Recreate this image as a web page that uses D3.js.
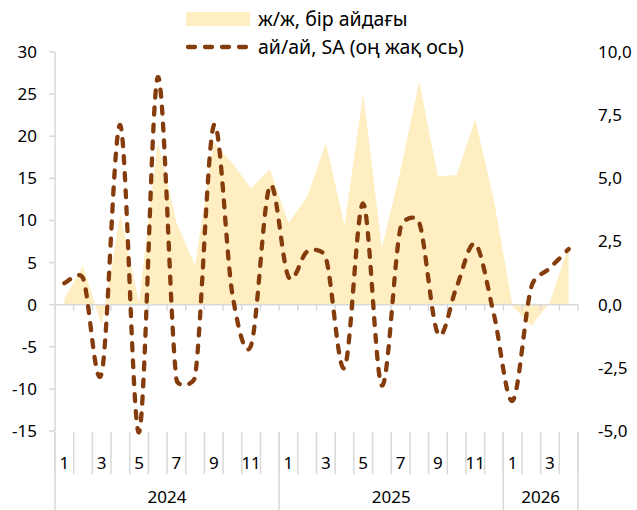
<!DOCTYPE html>
<html><head><meta charset="utf-8">
<script src="https://cdn.jsdelivr.net/npm/d3@7"></script>
<style>
html,body{margin:0;padding:0;background:#fff;}
svg text{font-family:"Noto Sans",sans-serif;fill:#000;}
</style></head>
<body>
<svg id="chart" width="637" height="510"></svg>
<script>
// ---- data ----
const months = [1,2,3,4,5,6,7,8,9,10,11,12, 1,2,3,4,5,6,7,8,9,10,11,12, 1,2,3,4];
const years = ["2024","2025","2026"];
const yearCounts = [12,12,4];
const yoy = [0.7,4.6,-2.5,10.8,0.2,19.3,9.8,4.6,19.3,16.8,13.8,16.1,
             9.7,12.8,19.2,9.4,25.1,6.7,16.0,26.5,15.2,15.4,22.0,12.4,
             -0.2,-2.5,0.3,7.0];
const mom = [0.85,1.05,-2.7,7.1,-5.05,9.0,-2.95,-2.85,7.1,0.4,-1.6,4.7,
             1.1,2.1,1.85,-2.5,4.0,-3.2,3.05,3.25,-1.15,0.7,2.4,-0.4,
             -3.8,0.7,1.45,2.2];
const leftTicks = [-15,-10,-5,0,5,10,15,20,25,30];
const rightTicks = [-5,-2.5,0,2.5,5,7.5,10];
const seriesNames = ["ж/ж, бір айдағы","ай/ай, SA (оң жақ ось)"];

// ---- Excel-like smoothing curve (Catmull-Rom Bezier, tangents clamped to half segment) ----
function ExcelSmooth(context){ this._context = context; }
ExcelSmooth.prototype = {
  areaStart(){}, areaEnd(){},
  lineStart(){ this._pts = []; },
  point(x,y){ this._pts.push([+x,+y]); },
  lineEnd(){
    const p = this._pts, c = this._context, n = p.length;
    if (!n) return;
    c.moveTo(p[0][0], p[0][1]);
    const tan = (a, b, seg) => {
      let tx = (b[0]-a[0])/6, ty = (b[1]-a[1])/6;
      const len = Math.hypot(tx,ty), lim = seg/2;
      if (len > lim && len > 0) { tx *= lim/len; ty *= lim/len; }
      return [tx,ty];
    };
    for (let i = 0; i < n-1; i++) {
      const p0 = p[Math.max(i-1,0)], p1 = p[i], p2 = p[i+1], p3 = p[Math.min(i+2,n-1)];
      const seg = Math.hypot(p2[0]-p1[0], p2[1]-p1[1]);
      const t1 = tan(p0, p2, seg), t2 = tan(p1, p3, seg);
      c.bezierCurveTo(p1[0]+t1[0], p1[1]+t1[1], p2[0]-t2[0], p2[1]-t2[1], p2[0], p2[1]);
    }
  }
};
const excelSmooth = ctx => new ExcelSmooth(ctx);

// ---- layout ----
const svg = d3.select("#chart");
const L = 55, R = 578, T = 52, B = 431;
const idx = d3.range(months.length);
const x = d3.scaleBand().domain(idx).range([L, R]).paddingInner(0).paddingOuter(0);
const cx = i => x(i) + x.bandwidth()/2;
const yL = d3.scaleLinear().domain([-15,30]).range([B, T]);
const yR = d3.scaleLinear().domain([-5,10]).range([B, T]);
const grid = "#d9d9d9";
const loc = d3.formatLocale({decimal:",", thousands:" ", grouping:[3], currency:["",""], minus:"-"});
const fR = loc.format(".1f");

// area
svg.append("path")
  .attr("d", d3.area().x((d,i)=>cx(i)).y0(yL(0)).y1(d=>yL(d))(yoy))
  .attr("fill","#FFEEC2");

// left axis line + ticks
svg.append("line").attr("x1",L).attr("x2",L).attr("y1",yL(30)).attr("y2",yL(-15))
  .attr("stroke",grid).attr("stroke-width",1.5);
leftTicks.forEach(t=>{
  svg.append("line").attr("x1",L-6).attr("x2",L).attr("y1",yL(t)).attr("y2",yL(t))
    .attr("stroke",grid).attr("stroke-width",1.5);
  svg.append("text").attr("x",37).attr("y",yL(t)).attr("dy","0.35em")
    .attr("text-anchor","end").attr("font-size",17).text(loc.format("d")(t));
});
// right labels
rightTicks.forEach(t=>{
  svg.append("text").attr("x",598).attr("y",yR(t)).attr("dy","0.35em")
    .attr("text-anchor","start").attr("font-size",17).text(fR(t));
});

// zero (category) axis line with ticks
svg.append("line").attr("x1",L).attr("x2",R).attr("y1",yL(0)).attr("y2",yL(0))
  .attr("stroke",grid).attr("stroke-width",1.5);
d3.range(months.length+1).forEach(i=>{
  const xx = L + i*x.bandwidth();
  svg.append("line").attr("x1",xx).attr("x2",xx).attr("y1",yL(0)).attr("y2",yL(0)+6)
    .attr("stroke",grid).attr("stroke-width",1.5);
});

// bottom multi-level labels
d3.range(months.length+1).forEach(i=>{
  const xx = L + i*x.bandwidth();
  svg.append("line").attr("x1",xx).attr("x2",xx).attr("y1",B+1).attr("y2",474)
    .attr("stroke",grid).attr("stroke-width",1.5);
});
months.forEach((m,i)=>{
  if (m % 2 === 1) {
    svg.append("text").attr("x",cx(i)).attr("y",463).attr("dy","0.35em")
      .attr("text-anchor","middle").attr("font-size",17).text(m);
  }
});
let start = 0;
years.forEach((yv,k)=>{
  const x0 = x(start), x1 = start+yearCounts[k] < months.length ? x(start+yearCounts[k]) : R;
  svg.append("line").attr("x1",x0).attr("x2",x0).attr("y1",B+1).attr("y2",510)
    .attr("stroke",grid).attr("stroke-width",1.5);
  svg.append("text").attr("x",(x0+x1)/2).attr("y",497).attr("dy","0.35em")
    .attr("text-anchor","middle").attr("font-size",17).text(yv);
  start += yearCounts[k];
});
svg.append("line").attr("x1",R).attr("x2",R).attr("y1",B+1).attr("y2",510)
  .attr("stroke",grid).attr("stroke-width",1.5);

// dashed smooth line
svg.append("path")
  .attr("d", d3.line().x((d,i)=>cx(i)).y(d=>yR(d)).curve(excelSmooth)(mom))
  .attr("fill","none").attr("stroke","#843C0C").attr("stroke-width",4.3)
  .attr("stroke-dasharray","7,10").attr("stroke-linecap","round");

// legend
svg.append("rect").attr("x",186).attr("y",12).attr("width",64).attr("height",14).attr("fill","#FFEEC2");
svg.append("text").attr("x",258).attr("y",19).attr("dy","0.35em").attr("font-size",19.5).text(seriesNames[0]);
svg.append("line").attr("x1",188).attr("x2",253).attr("y1",47).attr("y2",47)
  .attr("stroke","#843C0C").attr("stroke-width",4.3).attr("stroke-dasharray","7,10").attr("stroke-linecap","round");
svg.append("text").attr("x",258).attr("y",47).attr("dy","0.35em").attr("font-size",19.5).text(seriesNames[1]);
</script>
</body></html>
